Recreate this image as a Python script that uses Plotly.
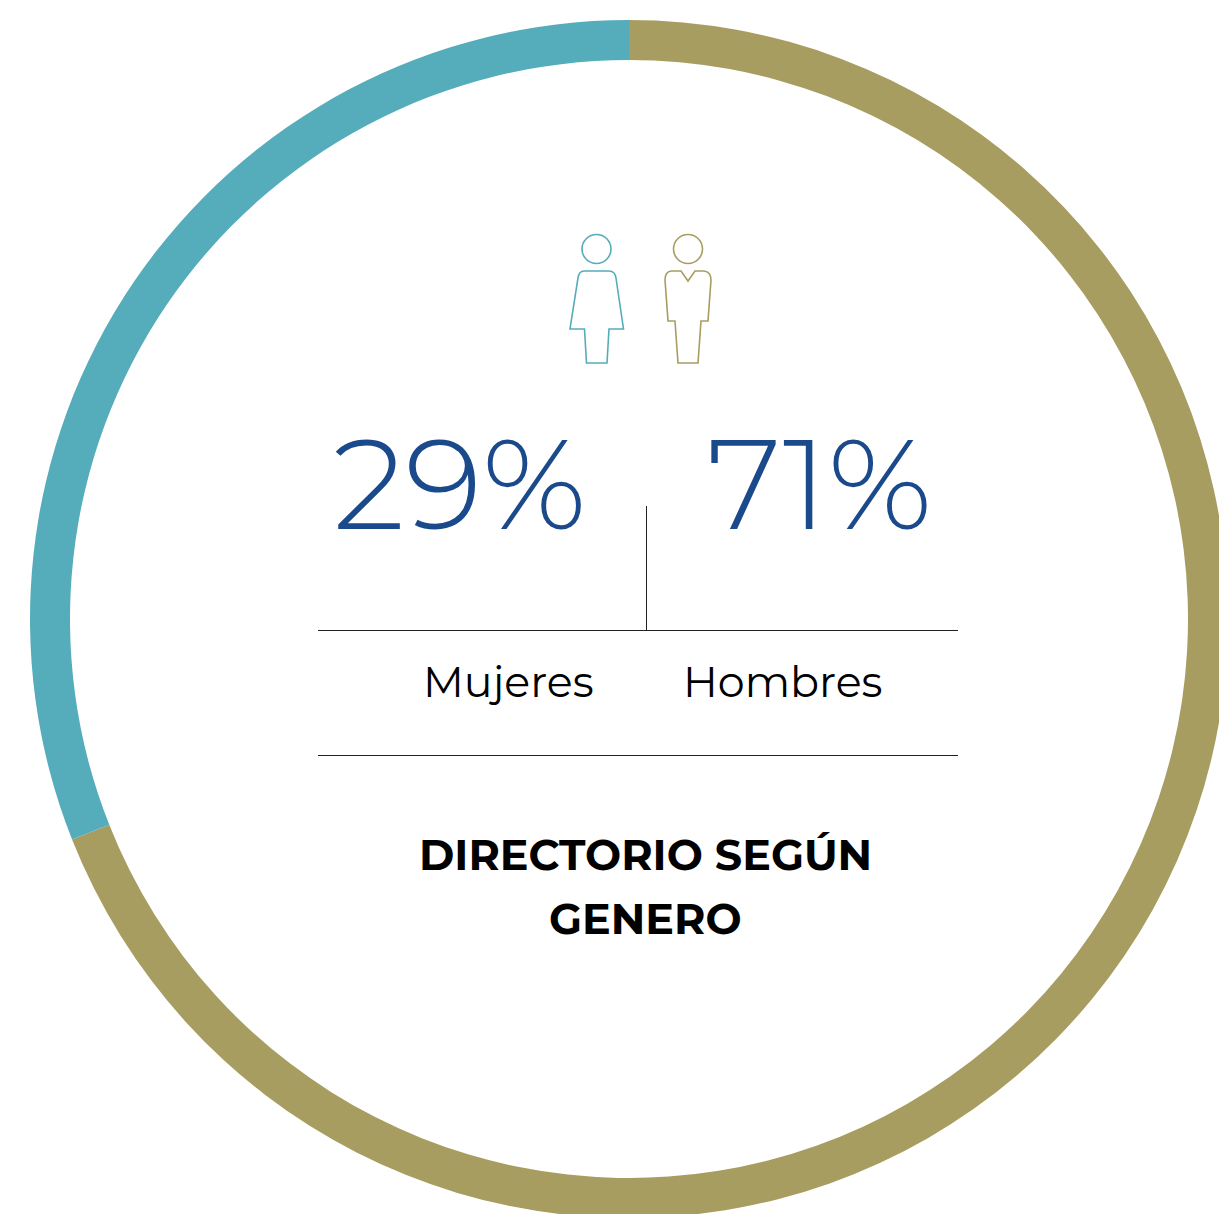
import plotly.graph_objects as go

# The ring as drawn splits about 69/31, while its printed labels say 71%/29%
labels = ["Hombres", "Mujeres"]
ring_values = [69, 31]
printed = ["29%", "71%"]
colors = ["#A89D60", "#55ACBA"]
# The ring overflows the window at right and bottom, so the figure is larger than the window
W, H = 1240, 1240
cx, cy, R = 629, 619, 599

def X(p): return p / W
def Y(p): return 1 - p / H

fig = go.Figure(go.Pie(labels=labels, values=ring_values, hole=559/599, sort=False, direction="clockwise",
    rotation=0, marker=dict(colors=colors, line=dict(width=0)), textinfo="none", hoverinfo="label+percent",
    domain=dict(x=[X(cx-R), X(cx+R)], y=[Y(cy+R), Y(cy-R)]), showlegend=False))

font = "Montserrat, Inter, Open Sans"
ann = [
 (printed[0], 459.5, 483.5, 128, "#1B4A8C", False),
 (printed[1], 819.5, 483.5, 128, "#1B4A8C", False),
 (labels[1], 508, 682, 42.8, "#000000", False),
 (labels[0], 782, 682, 42.8, "#000000", False),
 ("DIRECTORIO SEGÚN", 645.5, 855, 42.8, "#000000", True),
 ("GENERO", 645.5, 919, 42.8, "#000000", True),
]
annotations = [dict(text=f"<b>{t}</b>" if b else t, x=X(x), y=Y(y), xref="paper", yref="paper", showarrow=False,
    xanchor="center", yanchor="middle", font=dict(size=s, color=c, family=font, weight=300 if s > 100 else None)) for t, x, y, s, c, b in ann]

def line(x0, y0, x1, y1):
    return dict(type="line", xref="paper", yref="paper", x0=X(x0), y0=Y(y0), x1=X(x1), y1=Y(y1), line=dict(color="#222222", width=1))

def P(x, y): return f"{X(x):.5f},{Y(y):.5f}"

def path(d, color):
    s = ""
    for cmd, *pts in d:
        s += cmd + " ".join(P(*p) for p in pts) + " "
    return dict(type="path", xref="paper", yref="paper", path=s + "Z", line=dict(color=color, width=1.6), fillcolor="rgba(0,0,0,0)")

def circle(x, y, r, color):
    return dict(type="circle", xref="paper", yref="paper", x0=X(x-r), x1=X(x+r), y0=Y(y+r), y1=Y(y-r), line=dict(color=color, width=1.6))

teal, olive = colors[1], colors[0]
woman = [("M",(584,271)),("L",(609,271)),("Q",(615,271),(616,278)),("L",(623.5,329)),("L",(609,329)),("L",(607,363)),
         ("L",(586.5,363)),("L",(584.5,329)),("L",(570,329)),("L",(578,278)),("Q",(579,271),(584,271))]
man = [("M",(671,271)),("L",(681,271)),("L",(688,281)),("L",(695,271)),("L",(704,271)),("Q",(711,272),(711,280)),
       ("L",(708,321)),("L",(701,321)),("L",(698,363)),("L",(678,363)),("L",(675,321)),("L",(668,321)),("L",(665,280)),("Q",(665,272),(671,271))]
shapes = [line(318,630.5,958,630.5), line(318,755.5,958,755.5), line(646.5,506,646.5,630),
          circle(596.5,249,14.5,teal), circle(688,249,14.5,olive), path(woman,teal), path(man,olive)]

fig.update_layout(width=W, height=H, margin=dict(l=0,r=0,t=0,b=0), paper_bgcolor="white",
    annotations=annotations, shapes=shapes)
fig.write_html("out.html", config=dict(displayModeBar=False),
    post_script="document.body.style.margin='0';document.documentElement.style.overflow='hidden';document.body.style.overflow='hidden';")
